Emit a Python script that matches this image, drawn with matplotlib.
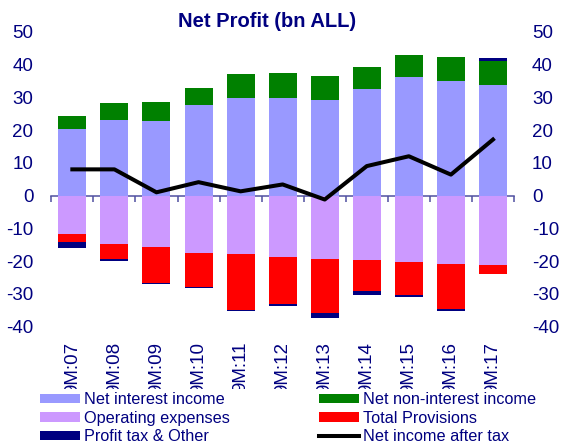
import numpy as np
import matplotlib
matplotlib.use('Agg')
from matplotlib import pyplot as plt

plt.rcParams['font.family'] = ['Liberation Sans', 'DejaVu Sans']
plt.rcParams['axes.unicode_minus'] = False

# data (bn ALL)
periods = ['9M:07', '9M:08', '9M:09', '9M:10', '9M:11', '9M:12',
           '9M:13', '9M:14', '9M:15', '9M:16', '9M:17']
net_interest = [20.4, 23.1, 22.9, 27.7, 29.8, 29.9, 29.3, 32.4, 36.2, 35.0, 33.6]
net_non_interest = [3.8, 5.0, 5.5, 5.0, 7.4, 7.5, 7.1, 6.8, 6.7, 7.2, 7.5]
operating_exp = [-11.8, -14.8, -15.8, -17.4, -17.9, -18.7, -19.2, -19.7, -20.4, -21.0, -21.3]
provisions = [-2.5, -4.5, -11.0, -10.6, -17.0, -14.5, -16.7, -9.3, -10.0, -13.7, -2.6]
tax_other = [-1.8, -0.7, -0.3, -0.3, -0.4, -0.5, -1.5, -1.2, -0.5, -0.4, 0.8]
net_after_tax = [8.0, 8.0, 1.0, 4.1, 1.3, 3.4, -1.2, 9.0, 12.0, 6.4, 17.1]

navy = '#000080'
x = np.arange(len(periods))
w = 0.665

fig = plt.figure(figsize=(5.62, 4.45), dpi=100)
ax = fig.add_axes([0.0913, 0.2658, 0.8233, 0.663])

nii = np.array(net_interest)
nonii = np.array(net_non_interest)
opex = np.array(operating_exp)
prov = np.array(provisions)
tax = np.array(tax_other)
tax_bottom = np.where(tax > 0, nii + nonii, opex + prov)

b1 = ax.bar(x, nii, w, color='#9999ff', label='Net interest income')
b2 = ax.bar(x, nonii, w, bottom=nii, color='#008000', label='Net non-interest income')
b3 = ax.bar(x, opex, w, color='#cc99ff', label='Operating expenses')
b4 = ax.bar(x, prov, w, bottom=opex, color='#ff0000', label='Total Provisions')
b5 = ax.bar(x, tax, w, bottom=tax_bottom, color=navy, label='Profit tax & Other')
ln, = ax.plot(x, net_after_tax, color='black', lw=2.9, label='Net income after tax', zorder=4)

ax.set_xlim(-0.5, len(periods) - 0.5)
ax.set_ylim(-40, 50)
ax.set_yticks(range(-40, 51, 10))
for s in ax.spines.values():
    s.set_visible(False)
ax.tick_params(axis='y', length=0, pad=13, labelsize=13.5, labelcolor=navy,
               labelleft=True, labelright=True)
ax.set_xticks(x)
ax.set_xticklabels(periods, rotation=90, va='top')
ax.tick_params(axis='x', length=0, pad=11, labelsize=13.5, labelcolor=navy)

# zero line with ticks between categories
zero = ax.secondary_xaxis(0, transform=ax.transData)
zero.set_xticks(np.arange(len(periods) + 1) - 0.5)
zero.tick_params(length=4, width=1.1, color='#5050a0', labelbottom=False, direction='out')
zero.spines['bottom'].set_color('#5050a0')
zero.spines['bottom'].set_linewidth(1.1)

fig.text(0.475, 0.9393, 'Net Profit (bn ALL)', ha='center', va='baseline',
         fontsize=14.5, fontweight='bold', color=navy)

leg = fig.legend([b1, b3, b5, b2, b4, ln],
                 ['Net interest income', 'Operating expenses', 'Profit tax & Other',
                  'Net non-interest income', 'Total Provisions', 'Net income after tax'],
                 ncol=2, loc='upper left', bbox_to_anchor=(0.0654, 0.1258),
                 borderaxespad=0, borderpad=0.2, fontsize=11.7, handlelength=2.46,
                 handleheight=0.52, handletextpad=0.25, columnspacing=5.5,
                 labelspacing=0.22, frameon=True, fancybox=False,
                 facecolor='white', edgecolor='none', framealpha=1)
for t in leg.get_texts():
    t.set_color(navy)

plt.savefig('out.png', dpi=100)
